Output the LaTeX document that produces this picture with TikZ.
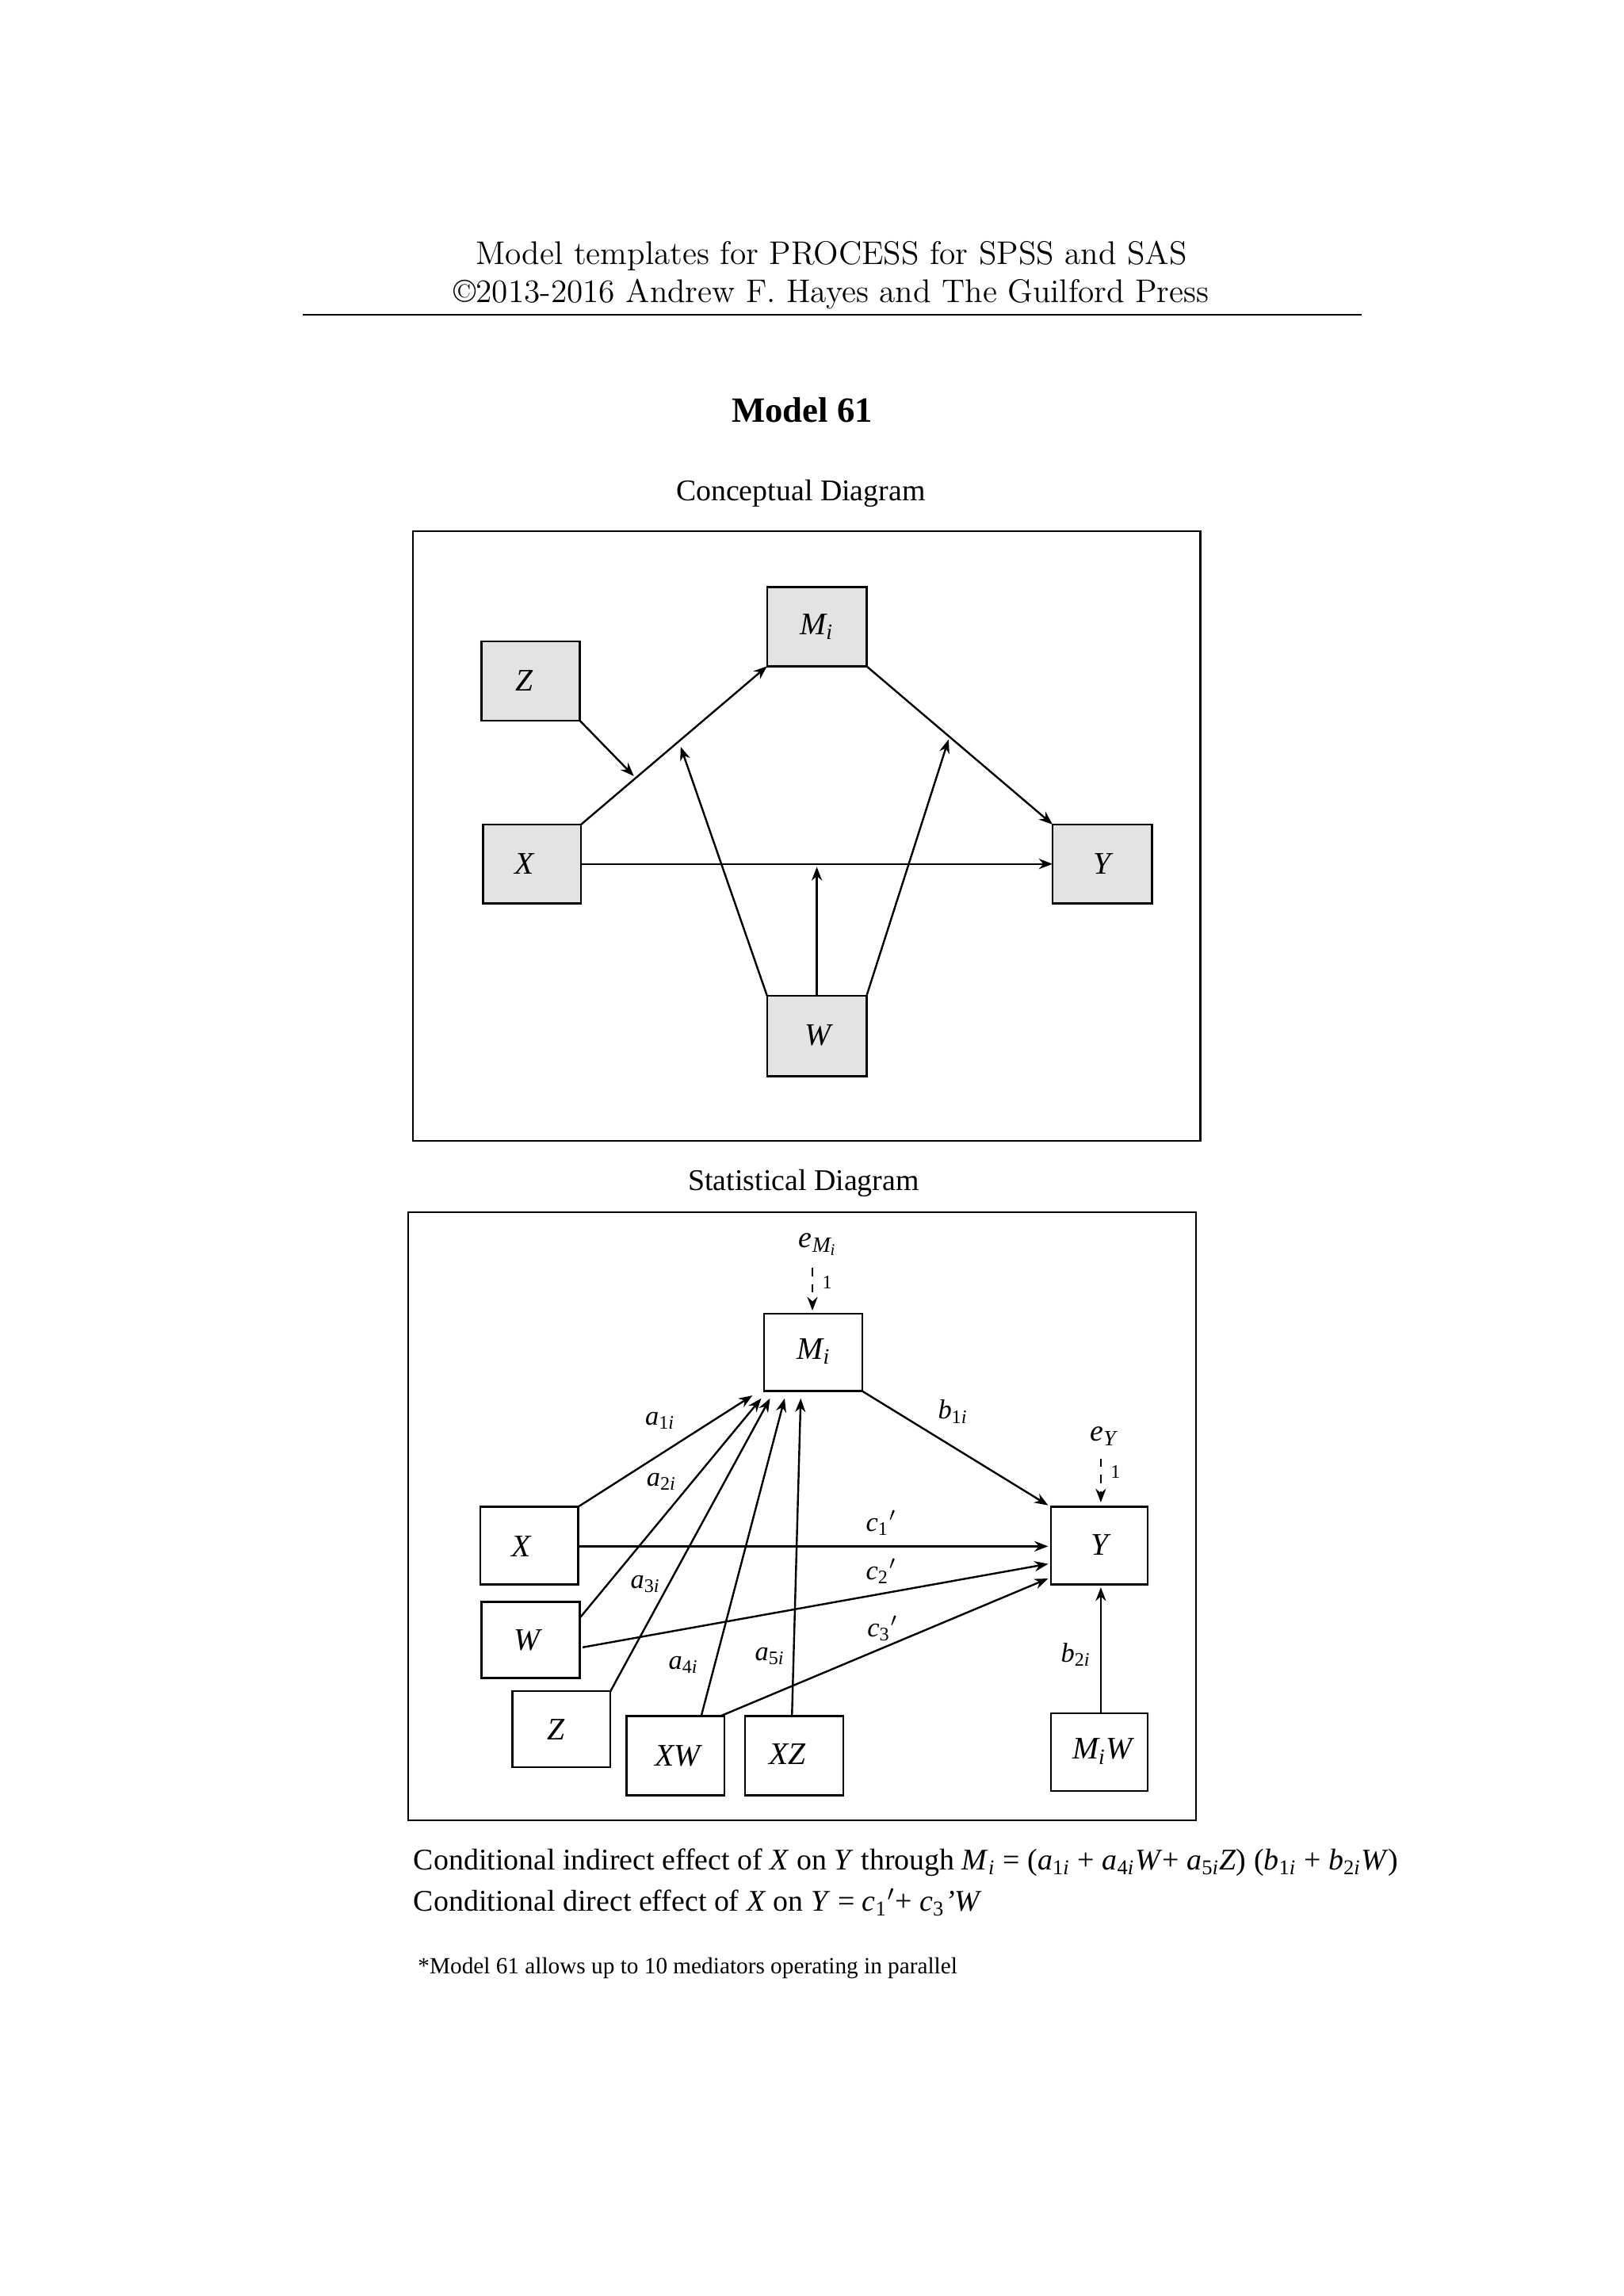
\documentclass[tikz,border=0pt]{standalone}
\usepackage{fontspec}
\setmainfont{Liberation Serif}
\newfontfamily\lmr{Latin Modern Roman}
\usetikzlibrary{arrows.meta}
\newcommand{\sbs}[2]{\textit{#1}\textsubscript{#2}}
\begin{document}
\begin{tikzpicture}[x=0.5363pt,y=-0.5363pt,
  box/.style={draw,line width=0.7pt,inner sep=0},
  gbox/.style={box,fill=gray!22},
  arr/.style={-{Stealth[length=5pt,width=3.8pt]},line width=0.7pt},
  darr/.style={arr,dashed},
  lab/.style={font=\fontsize{10}{12}\selectfont},
  nl/.style={font=\fontsize{11.5}{13}\selectfont\itshape}]
\useasboundingbox (0,0) rectangle (1109,1568);
% header
\node[font=\lmr\fontsize{12}{14}\selectfont] (h1) at (568,175) {Model templates for PROCESS for SPSS and SAS};
\node[font=\lmr\fontsize{12}{14}\selectfont] (h2) at (568,201) {\textcopyright2013-2016 Andrew F. Hayes and The Guilford Press};
\draw[line width=0.5pt] (207,215) -- (930,215);
\node[font=\fontsize{13}{15}\selectfont\bfseries] (t) at (548,280) {Model 61};
\node[font=\fontsize{11}{13}\selectfont] (cd) at (547,337) {Conceptual Diagram};
\draw[line width=0.6pt] (282,363) rectangle (820,779);
% conceptual nodes
\draw[gbox] (524,401) rectangle (592,455); \node[nl] (cM) at (558,428) {M\textsubscript{i}};
\draw[gbox] (329,438) rectangle (396,492); \node[nl] (cZ) at (358,465) {Z};
\draw[gbox] (330,563) rectangle (397,617); \node[nl] (cX) at (358,590) {X};
\draw[gbox] (719,563) rectangle (787,617); \node[nl] (cY) at (753,590) {Y};
\draw[gbox] (524,680) rectangle (592,735); \node[nl] (cW) at (559,707) {W};
\coordinate (xtr) at (397,563); \coordinate (mbl) at (524,455);
\coordinate (mbr) at (592,455); \coordinate (ytl) at (719,563);
\draw[arr] (xtr) -- (mbl);
\draw[arr] (mbr) -- (ytl);
\draw[arr] (397,590) coordinate (xr) -- (719,590) coordinate (yl);
\draw[arr] (396,492) coordinate (zbr) -- (433,530) coordinate (p1);
\draw[arr] (558,680) coordinate (wt) -- (558,592) coordinate (p2);
\draw[arr] (524,680) coordinate (wtl) -- (465,510) coordinate (p3);
\draw[arr] (592,680) coordinate (wtr) -- (648,505) coordinate (p4);
% statistical
\node[font=\fontsize{11}{13}\selectfont] (sd) at (549,808) {Statistical Diagram};
\draw[line width=0.6pt] (279,828) rectangle (817,1243);
\draw[box] (522,897) rectangle (589,950); \node[nl] (sM) at (556,923) {M\textsubscript{i}};
\draw[box] (328,1029) rectangle (395,1082); \node[nl] (sX) at (356,1056) {X};
\draw[box] (329,1094) rectangle (396,1146); \node[nl] (sW) at (360,1120) {W};
\draw[box] (350,1155) rectangle (417,1207); \node[nl] (sZ) at (380,1181) {Z};
\draw[box] (428,1172) rectangle (495,1226); \node[nl] (sXW) at (463,1199) {XW};
\draw[box] (509,1172) rectangle (576,1226); \node[nl] (sXZ) at (538,1198) {XZ};
\draw[box] (718,1029) rectangle (784,1082); \node[nl] (sY) at (751,1055) {Y};
\draw[box] (718,1170) rectangle (784,1223); \node[nl] (sMW) at (753,1196) {M\textsubscript{i}W};
\node[font=\fontsize{11}{13}\selectfont\itshape] (eM) at (559,850) {e\textsubscript{\fontsize{8}{9}\selectfont M\textsubscript{i}}};
\draw[darr] (555,866) coordinate (e1) -- (555,895) coordinate (e2);
\node[font=\fontsize{7}{8}\selectfont] (o1) at (565,876) {1};
\node[font=\fontsize{11}{13}\selectfont\itshape] (eY) at (754,981) {e\textsubscript{\fontsize{8}{9}\selectfont Y}};
\draw[darr] (752,996) coordinate (e3) -- (752,1026) coordinate (e4);
\node[font=\fontsize{7}{8}\selectfont] (o2) at (762,1005) {1};
\draw[arr] (395,1029) coordinate (q1) -- (514,953) coordinate (r1);
\draw[arr] (396,1105) coordinate (q2) -- (520,955) coordinate (r2);
\draw[arr] (417,1155) coordinate (q3) -- (526,955) coordinate (r3);
\draw[arr] (479,1172) coordinate (q4) -- (536,955) coordinate (r4);
\draw[arr] (541,1172) coordinate (q5) -- (547,955) coordinate (r5);
\draw[arr] (589,950) coordinate (q6) -- (716,1028) coordinate (r6);
\draw[arr] (395,1056) coordinate (q7) -- (716,1056) coordinate (r7);
\draw[arr] (398,1125) coordinate (q8) -- (716,1068) coordinate (r8);
\draw[arr] (492,1172) coordinate (q9) -- (716,1078) coordinate (r9);
\draw[arr] (752,1170) coordinate (q10) -- (752,1084) coordinate (r10);
\node[lab] (la1) at (451,970) {\sbs{a}{1\textit{i}}};
\node[lab] (la2) at (452,1012) {\sbs{a}{2\textit{i}}};
\node[lab] (la3) at (441,1082) {\sbs{a}{3\textit{i}}};
\node[lab] (la4) at (467,1137) {\sbs{a}{4\textit{i}}};
\node[lab] (la5) at (526,1131) {\sbs{a}{5\textit{i}}};
\node[lab] (lb1) at (651,964) {\sbs{b}{1\textit{i}}};
\node[lab] (lc1) at (602,1040) {\sbs{c}{1}$'$};
\node[lab] (lc2) at (602,1073) {\sbs{c}{2}$'$};
\node[lab] (lc3) at (603,1112) {\sbs{c}{3}$'$};
\node[lab] (lb2) at (735,1130) {\sbs{b}{2\textit{i}}};
% bottom text
\node[anchor=west,font=\fontsize{11}{13}\selectfont] (f1) at (276,1272) {Conditional indirect effect of \textit{X} on \textit{Y} through \sbs{M}{\textit{i}} = (\sbs{a}{1\textit{i}} + \sbs{a}{4\textit{i}}\textit{W}+ \sbs{a}{5\textit{i}}\textit{Z}) (\sbs{b}{1\textit{i}} + \sbs{b}{2\textit{i}}\textit{W})};
\node[anchor=west,font=\fontsize{11}{13}\selectfont] (f2) at (276,1299) {Conditional direct effect of \textit{X} on \textit{Y} = \sbs{c}{1}$'$+ \sbs{c}{3}\textit{'W}};
\node[anchor=west,font=\fontsize{8.5}{10}\selectfont] (f3) at (279,1344) {*Model 61 allows up to 10 mediators operating in parallel};
\end{tikzpicture}
\end{document}
